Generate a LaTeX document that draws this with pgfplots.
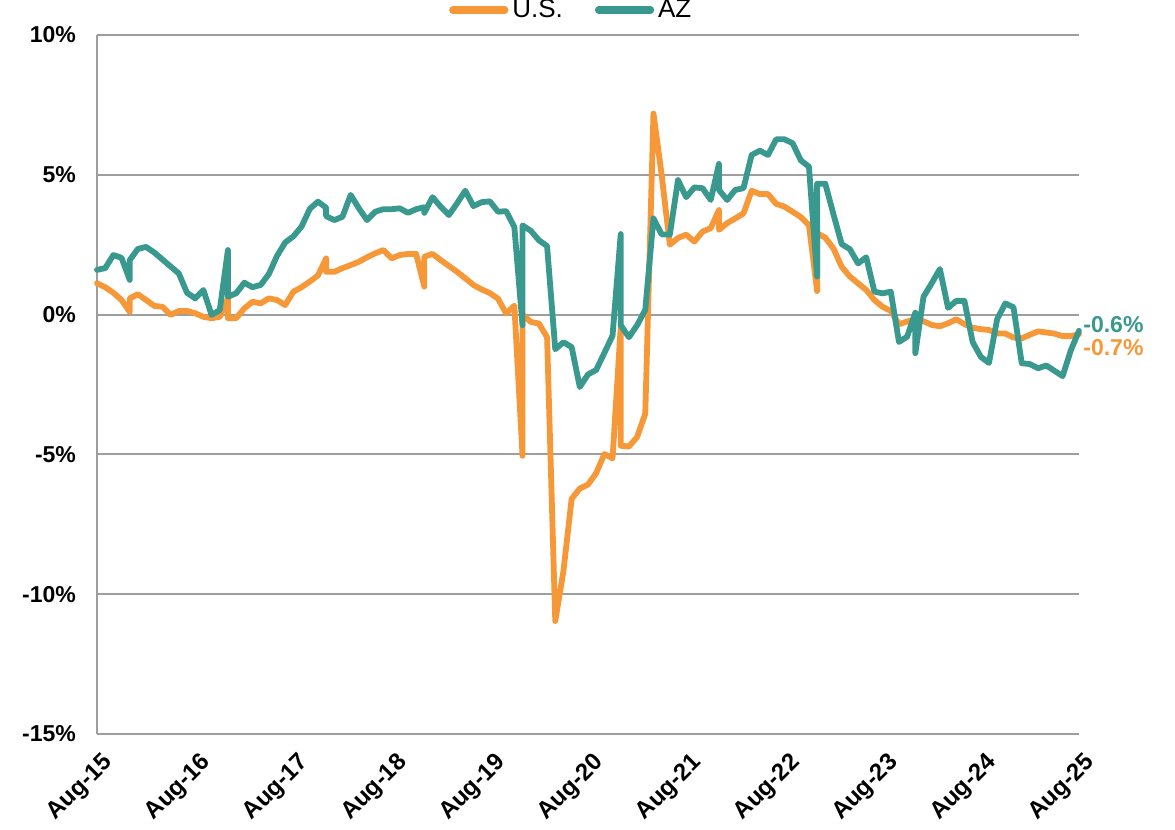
\documentclass[border=0pt]{standalone}
\usepackage{fontspec}
\setmainfont{Liberation Sans}
\usepackage{pgfplots}
\pgfplotsset{compat=1.18}
\definecolor{usorange}{RGB}{247,152,56}
\definecolor{azteal}{RGB}{57,153,142}
\definecolor{gridgray}{RGB}{158,158,158}
\begin{document}
\begin{tikzpicture}
\begin{axis}[
  name=ax,
  scale only axis,
  width=491pt, height=349.5pt,
  xmin=0, xmax=120, ymin=-15, ymax=10,
  enlargelimits=false,
  clip=false,
  axis x line=bottom, axis y line=left,
  axis line style={-, draw=gridgray, line width=0.9pt},
  major tick length=0pt,
  ymajorgrids,
  grid style={draw=gridgray, line width=1pt},
  ytick={-15,-10,-5,0,5,10},
  yticklabels={-15\%,-10\%,-5\%,0\%,5\%,10\%},
  xtick={0,12,24,36,48,60,72,84,96,108,120},
  xticklabels={Aug-15,Aug-16,Aug-17,Aug-18,Aug-19,Aug-20,Aug-21,Aug-22,Aug-23,Aug-24,Aug-25},
  yticklabel style={font=\bfseries\fontsize{11.5}{13}\selectfont, anchor=east, xshift=-7pt},
  xticklabel style={font=\bfseries\fontsize{12}{14}\selectfont, rotate=45, anchor=north east, inner sep=0.5pt, yshift=-7pt, xshift=-4pt},
  legend columns=2,
  legend style={at={(0.484,1)}, anchor=south, yshift=5pt, draw=none, fill=none,
    font=\fontsize{13}{14}\selectfont, inner sep=0pt,
    /tikz/every even column/.append style={column sep=14pt}},
  legend image code/.code={\draw[#1, line width=3.6pt, line cap=round] (0pt,0pt) -- (26pt,0pt);},
  every axis plot/.append style={line width=2.9pt, line join=round, line cap=round, mark=none},
]
\addplot[usorange] table {
x y
0 1.12
1 0.98
2 0.78
3 0.52
4 0.10
4 0.58
5 0.73
6 0.52
7 0.31
8 0.28
9 -0.01
10 0.13
11 0.13
12 0.05
13 -0.08
14 -0.13
15 -0.08
16 0.58
16 -0.13
17 -0.13
18 0.22
19 0.46
20 0.40
21 0.58
22 0.52
23 0.34
24 0.82
25 0.98
26 1.18
27 1.40
28 2.01
28 1.53
29 1.53
30 1.66
31 1.77
32 1.89
33 2.05
34 2.19
35 2.31
36 2.01
37 2.13
38 2.17
39 2.17
40 1.00
40 2.07
41 2.17
42 1.95
43 1.74
44 1.53
45 1.30
46 1.06
47 0.90
48 0.77
49 0.57
50 0.04
51 0.32
52 -5.05
52 0.00
53 -0.26
54 -0.32
55 -0.81
56 -10.96
57 -9.17
58 -6.59
59 -6.22
60 -6.08
61 -5.67
62 -4.99
63 -5.14
64 -0.44
64 -4.69
65 -4.72
66 -4.38
67 -3.54
68 7.19
69 5.00
70 2.50
71 2.74
72 2.86
73 2.61
74 2.97
75 3.09
76 3.74
76 3.03
77 3.27
78 3.44
79 3.62
80 4.43
81 4.31
82 4.31
83 3.96
84 3.86
85 3.68
86 3.49
87 3.20
88 0.84
88 2.91
89 2.75
90 2.36
91 1.71
92 1.36
93 1.12
94 0.88
95 0.52
96 0.28
97 0.13
98 -0.34
99 -0.25
100 -0.16
101 -0.24
102 -0.37
103 -0.42
104 -0.31
105 -0.17
106 -0.34
107 -0.47
108 -0.52
109 -0.55
110 -0.67
111 -0.68
112 -0.82
113 -0.85
114 -0.72
115 -0.60
116 -0.64
117 -0.68
118 -0.77
119 -0.77
120 -0.70
};
\addlegendentry{U.S.}
\addplot[azteal] table {
x y
0 1.60
1 1.66
2 2.13
3 2.03
4 1.24
4 1.95
5 2.35
6 2.42
7 2.22
8 1.97
9 1.72
10 1.47
11 0.78
12 0.58
13 0.88
14 -0.01
15 0.16
16 2.31
16 0.64
17 0.76
18 1.14
19 0.98
20 1.06
21 1.45
22 2.10
23 2.58
24 2.80
25 3.15
26 3.78
27 4.04
28 3.82
28 3.52
29 3.38
30 3.50
31 4.28
32 3.80
33 3.38
34 3.68
35 3.77
36 3.77
37 3.80
38 3.64
39 3.77
40 3.84
40 3.64
41 4.20
42 3.86
43 3.56
44 3.98
45 4.43
46 3.88
47 4.02
48 4.05
49 3.68
50 3.70
51 3.13
52 -0.38
52 3.19
53 3.00
54 2.66
55 2.45
56 -1.24
57 -0.99
58 -1.16
59 -2.59
60 -2.14
61 -1.98
62 -1.37
63 -0.75
64 2.88
64 -0.38
65 -0.81
66 -0.38
67 0.17
68 3.44
69 2.87
70 2.86
71 4.81
72 4.20
73 4.55
74 4.52
75 4.10
76 5.39
76 4.46
77 4.10
78 4.46
79 4.52
80 5.71
81 5.86
82 5.71
83 6.27
84 6.27
85 6.13
86 5.52
87 5.29
88 1.36
88 4.68
89 4.68
90 3.58
91 2.52
92 2.34
93 1.83
94 2.05
95 0.82
96 0.76
97 0.82
98 -0.98
99 -0.79
100 0.07
100 -1.38
101 0.64
102 1.12
103 1.63
104 0.24
105 0.49
106 0.49
107 -0.98
108 -1.51
109 -1.73
110 -0.16
111 0.40
112 0.26
113 -1.74
114 -1.77
115 -1.92
116 -1.82
117 -2.01
118 -2.20
119 -1.28
120 -0.58
};
\addlegendentry{AZ}
\node[anchor=west, inner sep=0pt, xshift=2pt, text=azteal, font=\bfseries\fontsize{11.5}{13}\selectfont] at (axis cs:120,-0.37) {-0.6\%};
\node[anchor=west, inner sep=0pt, xshift=2pt, text=usorange, font=\bfseries\fontsize{11.5}{13}\selectfont] at (axis cs:120,-1.19) {-0.7\%};
\end{axis}
\pgfresetboundingbox
\path[use as bounding box] ([xshift=-48.5pt,yshift=-48pt]ax.south west) rectangle ++(587.5pt,415pt);
\end{tikzpicture}
\end{document}
